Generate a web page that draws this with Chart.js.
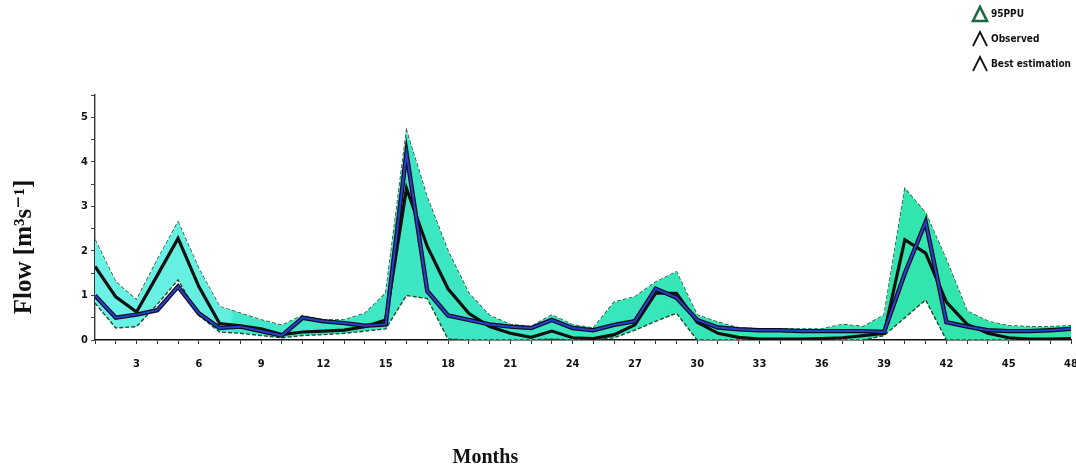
<!DOCTYPE html>
<html>
<head>
<meta charset="utf-8">
<script src="https://cdn.jsdelivr.net/npm/chart.js@4.4.1/dist/chart.umd.min.js"></script>
<style>
    html, body { margin: 0; padding: 0; background: #fff; }
</style>
</head>
<body>
<canvas id="flow-chart" width="1076" height="471"></canvas>
<script>

// monthly flow, m3/s
const months = [1, 2, 3, 4, 5, 6, 7, 8, 9, 10, 11, 12, 13, 14, 15, 16,
    17, 18, 19, 20, 21, 22, 23, 24, 25, 26, 27, 28, 29, 30, 31, 32,
    33, 34, 35, 36, 37, 38, 39, 40, 41, 42, 43, 44, 45, 46, 47, 48];

const ppuUpper = [2.25, 1.3, 0.9, 1.8, 2.65, 1.6, 0.75, 0.6, 0.45, 0.33, 0.55, 0.45,
    0.45, 0.6, 1.05, 4.7, 3.2, 2.0, 1.05, 0.55, 0.35, 0.3, 0.56, 0.34,
    0.27, 0.85, 0.97, 1.3, 1.53, 0.56, 0.4, 0.27, 0.25, 0.25, 0.25, 0.25,
    0.35, 0.3, 0.56, 3.4, 2.85, 1.8, 0.65, 0.42, 0.32, 0.3, 0.3, 0.32];

const ppuLower = [0.83, 0.27, 0.3, 0.8, 1.35, 0.55, 0.18, 0.15, 0.1, 0.05, 0.1, 0.12,
    0.15, 0.2, 0.25, 1.0, 0.93, 0.02, 0, 0, 0, 0, 0.02, 0,
    0, 0.05, 0.22, 0.42, 0.6, 0, 0, 0, 0, 0, 0, 0,
    0, 0, 0.1, 0.5, 0.9, 0, 0, 0, 0, 0, 0, 0];

const observed = [1.0, 0.5, 0.57, 0.67, 1.2, 0.6, 0.27, 0.3, 0.2, 0.1, 0.5, 0.42,
    0.38, 0.32, 0.35, 4.2, 1.1, 0.55, 0.45, 0.35, 0.3, 0.27, 0.45, 0.27,
    0.22, 0.34, 0.42, 1.15, 0.95, 0.45, 0.28, 0.24, 0.22, 0.22, 0.2, 0.2,
    0.2, 0.2, 0.18, 1.5, 2.65, 0.4, 0.3, 0.22, 0.2, 0.2, 0.22, 0.25];

const bestEstimation = [1.65, 0.97, 0.63, 1.45, 2.28, 1.2, 0.37, 0.32, 0.25, 0.12, 0.18, 0.2,
    0.22, 0.3, 0.45, 3.4, 2.1, 1.15, 0.6, 0.3, 0.15, 0.06, 0.2, 0.05,
    0.03, 0.12, 0.34, 1.05, 1.05, 0.4, 0.15, 0.06, 0.02, 0.02, 0.02, 0.03,
    0.05, 0.1, 0.15, 2.25, 1.95, 0.85, 0.35, 0.15, 0.05, 0.02, 0.02, 0.03];

const yTitle = 'Flow [m\u00B3s\u207B\u00B9]';
const xTitle = 'Months';


function points(values) {
    return months.map((m, i) => ({ x: m, y: values[i] }));
}

// band colour drifts from aqua on the left to mint on the right
function bandFill(context) {
    const chart = context.chart;
    const a = chart.chartArea;
    if (!a) return '#3ee6c6';
    const g = chart.ctx.createLinearGradient(a.left, 0, a.right, 0);
    g.addColorStop(0, '#6cf2e6');
    g.addColorStop(0.138, '#62efe0');
    g.addColorStop(0.142, '#44e8cc');
    g.addColorStop(0.5, '#38e6bc');
    g.addColorStop(1, '#30e4a8');
    return g;
}


const axisTitles = {
    id: 'axisTitles',
    afterDraw(chart) {
        const ctx = chart.ctx;
        const a = chart.chartArea;

        ctx.save();
        ctx.fillStyle = '#111';
        ctx.textAlign = 'center';
        ctx.textBaseline = 'middle';

        ctx.font = 'bold 25px "Liberation Serif", "DejaVu Serif", serif';
        ctx.translate(a.left - 70, a.top + 152);
        ctx.rotate(-Math.PI / 2);
        ctx.fillText(yTitle, 0, 0);
        ctx.restore();

        ctx.save();
        ctx.fillStyle = '#111';
        ctx.textAlign = 'center';
        ctx.textBaseline = 'middle';
        ctx.font = 'bold 20px "Liberation Serif", "DejaVu Serif", serif';
        ctx.fillText(xTitle, a.left + (a.right - a.left) * 0.4, a.bottom + 118);
        ctx.restore();
    }
};

// small legend block in the top right corner
const cornerLegend = {
    id: 'cornerLegend',
    afterDraw(chart) {
        const ctx = chart.ctx;
        const sets = chart.data.datasets;
        const items = [
            { label: sets[0].label, color: '#1c6a3c', closed: true },
            { label: sets[3].label, color: '#111', closed: false },
            { label: sets[2].label, color: '#111', closed: false }
        ];
        const x0 = chart.width - 103;
        let y0 = 14;

        ctx.save();
        ctx.font = 'bold 10px "Liberation Sans Narrow", "DejaVu Sans Condensed", sans-serif';
        ctx.textBaseline = 'middle';
        items.forEach(it => {
            ctx.strokeStyle = it.color;
            ctx.lineWidth = it.closed ? 2.6 : 1.8;
            ctx.beginPath();
            ctx.moveTo(x0, y0 + 7);
            ctx.lineTo(x0 + 7, y0 - 7);
            ctx.lineTo(x0 + 14, y0 + 7);
            if (it.closed) ctx.closePath();
            ctx.stroke();
            ctx.fillStyle = '#111';
            ctx.fillText(it.label, x0 + 18, y0);
            y0 += 25;
        });
        ctx.restore();
    }
};


const tickFont = { family: '"Liberation Sans Narrow", "DejaVu Sans Condensed", sans-serif', size: 11, weight: 'bold' };

// higher order is painted first, so the band goes under the lines
new Chart(document.getElementById('flow-chart'), {
    type: 'line',
    data: {
        datasets: [
            {
                label: '95PPU',
                data: points(ppuUpper),
                borderColor: '#1a4e2e',
                borderWidth: 1.4,
                borderDash: [4, 2],
                pointRadius: 0,
                fill: false,
                order: 11
            },
            {
                label: '95PPU lower',
                data: points(ppuLower),
                borderColor: '#1a4e2e',
                borderWidth: 1.4,
                borderDash: [4, 2],
                pointRadius: 0,
                backgroundColor: bandFill,
                fill: '-1',
                order: 10
            },
            {
                label: 'Best estimation',
                data: points(bestEstimation),
                borderColor: '#101010',
                borderWidth: 3.2,
                pointRadius: 0,
                fill: false,
                order: 3
            },
            {
                label: 'Observed',
                data: points(observed),
                borderColor: '#0c0c20',
                borderWidth: 4.4,
                pointRadius: 0,
                fill: false,
                order: 2
            },
            {
                label: 'Observed line',
                data: points(observed),
                borderColor: '#2a40c8',
                borderWidth: 2,
                pointRadius: 0,
                fill: false,
                order: 1
            }
        ]
    },
    options: {
        responsive: false,
        animation: false,
        devicePixelRatio: 1,
        layout: { padding: { top: 95, right: 5, left: 0, bottom: 0 } },
        plugins: {
            legend: { display: false },
            tooltip: { enabled: false }
        },
        elements: { line: { tension: 0 } },
        scales: {
            x: {
                type: 'linear',
                min: 1,
                max: 48,
                // let the last label run off the edge instead of shrinking the plot
                afterFit: s => { s.height = 131; s.paddingRight = 0; },
                ticks: {
                    stepSize: 1,
                    autoSkip: false,
                    maxRotation: 0,
                    padding: 14,
                    color: '#111',
                    font: tickFont,
                    callback: v => (v % 3 === 0 ? v : '')
                },
                grid: { drawOnChartArea: false, tickLength: 4, color: '#333' },
                border: { color: '#111', width: 1.6 }
            },
            y: {
                min: 0,
                max: 5.5,
                afterFit: s => { s.width = 95; },
                ticks: {
                    stepSize: 0.5,
                    padding: 3,
                    color: '#111',
                    font: tickFont,
                    callback: v => (Number.isInteger(v) ? v : '')
                },
                grid: { drawOnChartArea: false, tickLength: 4, color: '#444' },
                border: { color: '#333', width: 1.4, dash: [3, 2] }
            }
        }
    },
    plugins: [axisTitles, cornerLegend]
});
</script>
</body>
</html>
